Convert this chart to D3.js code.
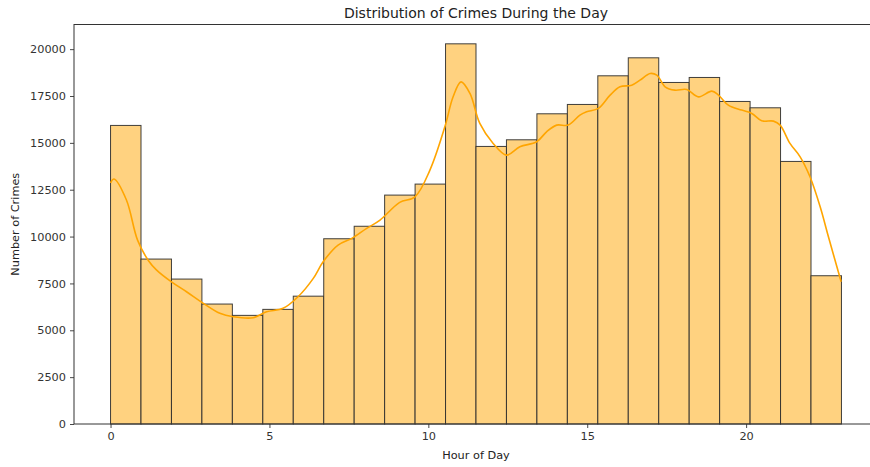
<!DOCTYPE html>
<html>
<head>
<meta charset="utf-8">
<script src="https://cdn.jsdelivr.net/npm/d3@7"></script>
<style>
  html, body { margin: 0; padding: 0; background: #fff; }
  svg { display: block; font-family: "DejaVu Sans", sans-serif; }
</style>
</head>
<body>
<div id="chart"></div>
<script>
// ---- data ----
const hours = [0,1,2,3,4,5,6,7,8,9,10,11,12,13,14,15,16,17,18,19,20,21,22,23];
const counts = [15930,8800,7733,6400,5796,6116,6820,9884,10550,12213,12800,20284,14809,15164,16551,17049,18578,19538,18222,18489,17209,16871,14009,7911];
const kdeHours = [0,0.11,0.5,0.85,1.2,1.45,1.94,2.39,2.92,3.44,3.86,4.49,4.91,5.43,5.9,6.38,6.69,7.16,7.59,8.06,8.48,9.1,9.58,10.05,10.52,10.78,11.03,11.31,11.62,12.04,12.46,12.88,13.41,13.72,14.04,14.4,14.77,14.98,15.35,15.72,16.03,16.4,16.66,16.98,17.19,17.45,17.76,18.13,18.5,18.92,19.13,19.44,19.86,20.18,20.49,20.86,21.07,21.38,21.7,22.01,22.33,22.59,22.99];
const kdeCounts = [12870,13070,11950,9810,8700,8213,7557,7057,6437,5904,5723,5669,5989,6171,6790,7770,8656,9547,9904,10437,10880,11824,12123,13547,15856,17456,18256,17637,16037,14970,14347,14790,15056,15590,15947,15947,16480,16656,16837,17547,17990,18080,18347,18703,18613,17990,17813,17849,17456,17760,17547,17013,16747,16570,16177,16160,15947,14970,14256,13190,11590,9990,7590];
const xTicks = [0,5,10,15,20];
const yTicks = [0,2500,5000,7500,10000,12500,15000,17500,20000];
const nBins = 24;
const binLo = 0, binHi = 23;

// ---- layout ----
const W = 870, H = 467;
const mLeft = 74, mRight = 878, mTop = 24.5, mBottom = 424;

const svg = d3.select("#chart").append("svg")
  .attr("width", W).attr("height", H);

const x = d3.scaleLinear().domain([-1.15, 24.15]).range([mLeft, mRight]);
const y = d3.scaleLinear().domain([0, 21315]).range([mBottom, mTop]);

const bw = (binHi - binLo) / nBins;

// bars
svg.append("g").selectAll("rect")
  .data(hours)
  .join("rect")
  .attr("x", (d, i) => x(binLo + i * bw))
  .attr("y", (d, i) => y(counts[i]))
  .attr("width", (d, i) => x(binLo + (i + 1) * bw) - x(binLo + i * bw))
  .attr("height", (d, i) => y(0) - y(counts[i]))
  .attr("fill", "#FFD280")
  .attr("stroke", "#2b2b2b")
  .attr("stroke-opacity", 0.9)
  .attr("stroke-width", 1);

// kde
const line = d3.line()
  .x((d, i) => x(kdeHours[i]))
  .y((d, i) => y(kdeCounts[i]))
  .curve(d3.curveCatmullRom.alpha(0.5));
svg.append("path")
  .datum(kdeHours)
  .attr("d", line)
  .attr("fill", "none")
  .attr("stroke", "#FFA500")
  .attr("stroke-width", 1.6);

// axes
const xAxis = d3.axisBottom(x).tickValues(xTicks).tickFormat(d3.format("d")).tickSizeOuter(0).tickSize(4).tickPadding(4);
const yAxis = d3.axisLeft(y).tickValues(yTicks).tickFormat(d3.format("d")).tickSizeOuter(0).tickSize(4).tickPadding(4);

const gx = svg.append("g").attr("transform", `translate(0,${mBottom})`).call(xAxis);
const gy = svg.append("g").attr("transform", `translate(${mLeft},0)`).call(yAxis);
[gx, gy].forEach(g => {
  g.select(".domain").remove();
  g.selectAll("line").attr("stroke", "#333").attr("stroke-width", 0.9);
  g.selectAll("text").attr("fill", "#333").style("font-size", "11.3px").style("font-family", "DejaVu Sans, sans-serif");
});

// spines
svg.append("rect")
  .attr("x", mLeft).attr("y", mTop)
  .attr("width", mRight - mLeft).attr("height", mBottom - mTop)
  .attr("fill", "none").attr("stroke", "#333").attr("stroke-width", 1);

// title & labels
svg.append("text")
  .attr("x", (mLeft + mRight) / 2).attr("y", 18)
  .attr("text-anchor", "middle")
  .attr("fill", "#222")
  .style("font-size", "14px")
  .text("Distribution of Crimes During the Day");

svg.append("text")
  .attr("x", (mLeft + mRight) / 2).attr("y", 459)
  .attr("text-anchor", "middle")
  .attr("fill", "#222")
  .style("font-size", "11.3px")
  .text("Hour of Day");

svg.append("text")
  .attr("transform", `translate(19,${(mTop + mBottom) / 2}) rotate(-90)`)
  .attr("text-anchor", "middle")
  .attr("fill", "#222")
  .style("font-size", "11.3px")
  .text("Number of Crimes");
</script>
</body>
</html>
